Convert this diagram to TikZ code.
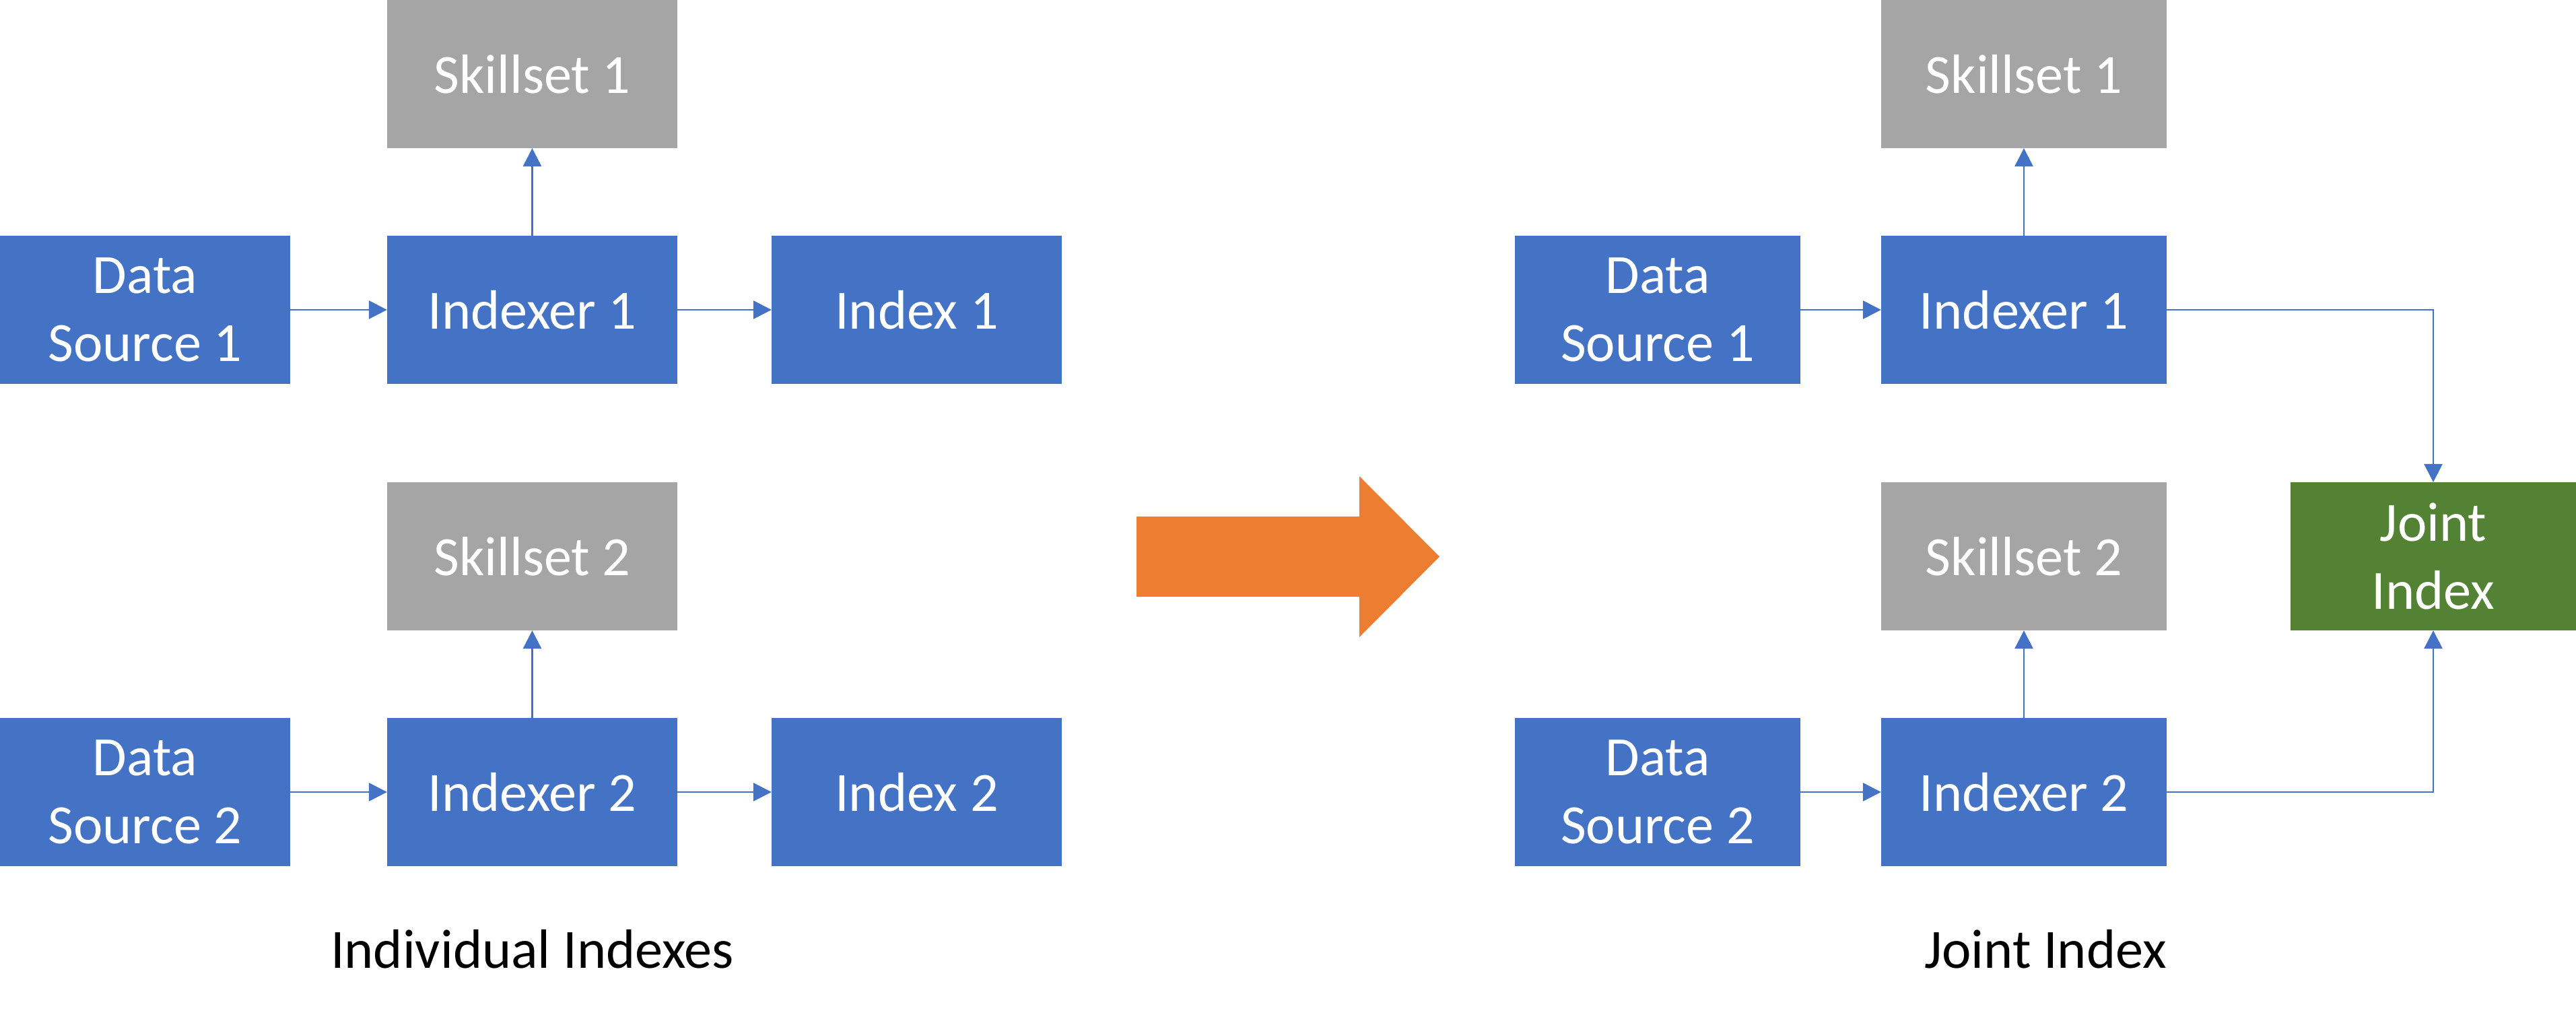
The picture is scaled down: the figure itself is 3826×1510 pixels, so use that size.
\documentclass[tikz,border=0pt]{standalone}
\usepackage{fontspec}
\setmainfont{Carlito}
\usetikzlibrary{arrows.meta}

\definecolor{boxblue}{HTML}{4472C4}
\definecolor{boxgrey}{HTML}{A5A5A5}
\definecolor{boxgreen}{HTML}{548235}
\definecolor{bigorange}{HTML}{ED7D31}
\newcommand{\diagfont}{\fontsize{23.4}{28.5}\selectfont}

\begin{document}
\begin{tikzpicture}[x=0.01cm, y=-0.01cm,
    box/.style={text=white, inner sep=0pt, outer sep=0pt, minimum height=2.2cm,
        align=center, font=\diagfont},
    leftbox/.style={box, minimum width=4.31cm},
    rightbox/.style={box, minimum width=4.24cm},
    link/.style={draw=boxblue, line width=0.8pt, -{Triangle[length=0.27cm, width=0.27cm]}},
    caption/.style={anchor=base, font=\diagfont}]
        \useasboundingbox (0,0) rectangle (3826,1510);

        % Individual indexes
        \node[leftbox, fill=boxgrey] (sk1) at (790.5,110) {Skillset 1};
        \node[leftbox, fill=boxblue] (ds1) at (215.5,460) {Data\\Source 1};
        \node[leftbox, fill=boxblue] (ix1) at (790.5,460) {Indexer 1};
        \node[leftbox, fill=boxblue] (idx1) at (1361.5,460) {Index 1};
        \node[leftbox, fill=boxgrey] (sk2) at (790.5,826) {Skillset 2};
        \node[leftbox, fill=boxblue] (ds2) at (215.5,1176) {Data\\Source 2};
        \node[leftbox, fill=boxblue] (ix2) at (790.5,1176) {Indexer 2};
        \node[leftbox, fill=boxblue] (idx2) at (1361.5,1176) {Index 2};

        \draw[link] (ds1) -- (ix1);
        \draw[link] (ix1) -- (idx1);
        \draw[link] (ix1) -- (sk1);
        \draw[link] (ds2) -- (ix2);
        \draw[link] (ix2) -- (idx2);
        \draw[link] (ix2) -- (sk2);

        \node[caption] (capL) at (790.5,1437) {Individual Indexes};

        % Big arrow
        \fill[bigorange] (1688,767) -- (2019,767) -- (2019,707) -- (2138,826.5)
            -- (2019,946) -- (2019,886) -- (1688,886) -- cycle;

        % Joint index
        \node[rightbox, fill=boxgrey] (sk1r) at (3006,110) {Skillset 1};
        \node[rightbox, fill=boxblue] (ds1r) at (2462,460) {Data\\Source 1};
        \node[rightbox, fill=boxblue] (ix1r) at (3006,460) {Indexer 1};
        \node[rightbox, fill=boxgrey] (sk2r) at (3006,826) {Skillset 2};
        \node[rightbox, fill=boxgreen] (joint) at (3614,826) {Joint\\Index};
        \node[rightbox, fill=boxblue] (ds2r) at (2462,1176) {Data\\Source 2};
        \node[rightbox, fill=boxblue] (ix2r) at (3006,1176) {Indexer 2};

        \draw[link] (ds1r) -- (ix1r);
        \draw[link] (ix1r) -- (sk1r);
        \draw[link] (ix1r.east) -| (joint.north);
        \draw[link] (ds2r) -- (ix2r);
        \draw[link] (ix2r) -- (sk2r);
        \draw[link] (ix2r.east) -| (joint.south);

        \node[caption] (capR) at (3038,1437) {Joint Index};
\end{tikzpicture}
\end{document}
